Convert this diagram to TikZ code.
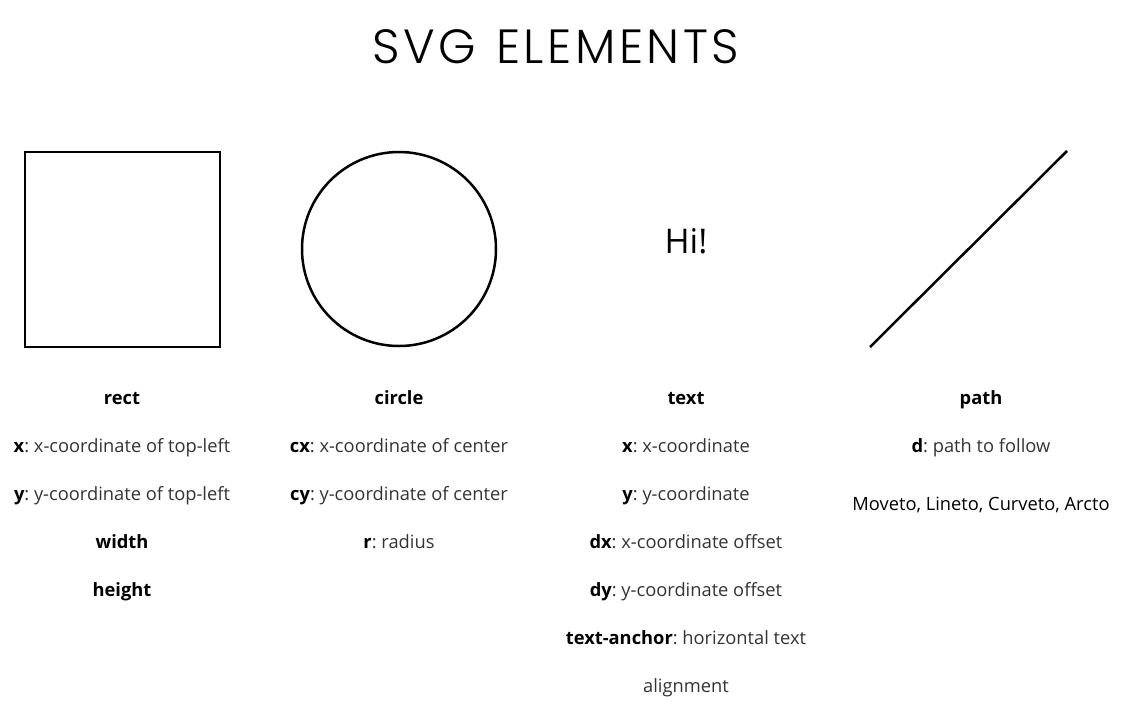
\documentclass[tikz,border=0pt]{standalone}
\usepackage{fontspec}
\setmainfont{Open Sans}
\newfontfamily\titlefont{Poppins}[UprightFont=* Light]
\definecolor{txt}{HTML}{333333}
\frenchspacing
\begin{document}
\begin{tikzpicture}[x=1pt,y=-1pt,
  lbl/.style={font=\fontsize{18.3}{20}\selectfont, text=txt, inner sep=0pt, anchor=base},
  hd/.style={font=\fontsize{18.3}{20}\selectfont\bfseries, text=black, inner sep=0pt, anchor=base},
  shp/.style={line width=2.5pt, draw=black}]
\useasboundingbox (0,0) rectangle (1128,716);
\node[font=\titlefont\fontsize{48}{50}\selectfont, inner sep=0pt, anchor=base] (title) at (556,63) {S\kern3.5pt V\kern3.5pt G\hspace{20pt}E\kern3.5pt L\kern3.5pt E\kern3.5pt M\kern3.5pt E\kern3.5pt N\kern3.5pt T\kern3.5pt S};
% shapes
\draw[shp] (25,152) rectangle (220,347);
\draw[shp] (399,249) circle (97);
\node[font=\fontsize{34}{38}\selectfont, inner sep=0pt, anchor=base] (hi) at (686,253) {Hi!};
\draw[shp] (870,347) -- (1067,151);
% rect column
\node[hd] (r0) at (122,404) {rect};
\node[lbl] (r1) at (122,452) {\textbf{\color{black}x}: x-coordinate of top-left};
\node[lbl] (r2) at (122,500) {\textbf{\color{black}y}: y-coordinate of top-left};
\node[hd] (r3) at (122,548) {width};
\node[hd] (r4) at (122,596) {height};
% circle column
\node[hd] (c0) at (399,404) {circle};
\node[lbl] (c1) at (399,452) {\textbf{\color{black}cx}: x-coordinate of center};
\node[lbl] (c2) at (399,500) {\textbf{\color{black}cy}: y-coordinate of center};
\node[lbl] (c3) at (399,548) {\textbf{\color{black}r}: radius};
% text column
\node[hd] (t0) at (686,404) {text};
\node[lbl] (t1) at (686,452) {\textbf{\color{black}x}: x-coordinate};
\node[lbl] (t2) at (686,500) {\textbf{\color{black}y}: y-coordinate};
\node[lbl] (t3) at (686,548) {\textbf{\color{black}dx}: x-coordinate offset};
\node[lbl] (t4) at (686,596) {\textbf{\color{black}dy}: y-coordinate offset};
\node[lbl] (t5) at (686,644) {\textbf{\color{black}text-anchor}: horizontal text};
\node[lbl] (t6) at (686,692) {alignment};
% path column
\node[hd] (p0) at (981,404) {path};
\node[lbl] (p1) at (981,452) {\textbf{\color{black}d}: path to follow};
\node[lbl, text=black] (p2) at (981,510) {Moveto, Lineto, Curveto, Arcto};
\end{tikzpicture}
\end{document}
